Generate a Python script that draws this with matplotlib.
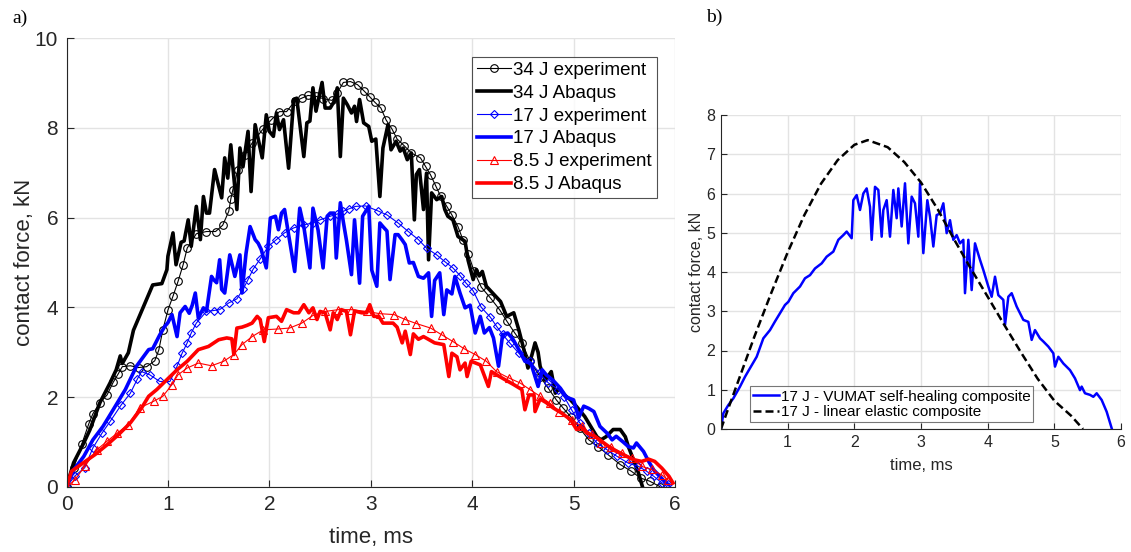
import numpy as np
import matplotlib
matplotlib.use("Agg")
import matplotlib.pyplot as plt

plt.rcParams['font.family'] = ['Liberation Sans', 'DejaVu Sans']

# ---------------- data (time ms, force kN) ----------------
exp34 = np.array([
    [0, 0], [0.07, 0.42], [0.15, 0.95], [0.22, 1.41], [0.26, 1.63], [0.33, 1.88], [0.40, 2.05],
    [0.46, 2.33], [0.51, 2.52], [0.55, 2.68], [0.63, 2.70], [0.71, 2.66], [0.79, 2.68], [0.87, 2.81],
    [0.91, 3.05], [0.95, 3.50], [1.00, 3.94], [1.05, 4.25], [1.10, 4.58], [1.15, 4.95], [1.19, 5.32],
    [1.28, 5.64], [1.38, 5.69], [1.47, 5.69], [1.54, 5.83], [1.60, 6.14], [1.62, 6.41], [1.64, 6.62],
    [1.69, 7.07], [1.76, 7.40], [1.83, 7.66], [1.94, 7.98], [2.02, 8.18], [2.10, 8.36], [2.17, 8.36],
    [2.25, 8.59], [2.32, 8.66], [2.38, 8.72], [2.46, 8.70], [2.53, 8.65], [2.62, 8.61], [2.67, 8.78],
    [2.73, 9.01], [2.80, 9.03], [2.87, 8.96], [2.93, 8.83], [2.99, 8.69], [3.04, 8.57], [3.10, 8.44],
    [3.15, 8.18], [3.21, 7.97], [3.26, 7.75], [3.33, 7.60], [3.40, 7.44], [3.49, 7.33], [3.54, 7.14],
    [3.59, 6.95], [3.64, 6.71], [3.69, 6.47], [3.75, 6.25], [3.80, 6.06], [3.86, 5.80], [3.91, 5.50],
    [3.96, 5.20], [4.02, 4.80], [4.09, 4.45], [4.18, 4.21], [4.27, 3.95], [4.34, 3.70], [4.42, 3.43],
    [4.49, 3.21], [4.57, 2.80], [4.67, 2.46], [4.75, 2.20], [4.83, 1.94], [4.90, 1.75], [4.97, 1.57],
    [5.06, 1.31], [5.15, 1.05], [5.24, 0.90], [5.34, 0.72], [5.46, 0.50], [5.57, 0.35], [5.66, 0.20],
    [5.75, 0.13], [5.85, 0.01]])

abaqus34 = np.array([
    [0, 0], [0.07, 0.54], [0.17, 0.98], [0.23, 1.27], [0.33, 1.88], [0.43, 2.32], [0.49, 2.61],
    [0.53, 2.92], [0.55, 2.75], [0.61, 2.99], [0.66, 3.49], [0.76, 4.02], [0.85, 4.50], [0.94, 4.53],
    [0.99, 4.84], [1.00, 5.14], [1.05, 5.66], [1.08, 4.95], [1.13, 5.45], [1.16, 5.48], [1.20, 5.95],
    [1.23, 5.36], [1.28, 6.25], [1.32, 5.51], [1.35, 6.47], [1.38, 6.10], [1.41, 6.10], [1.46, 7.07],
    [1.53, 6.44], [1.56, 7.33], [1.59, 6.88], [1.62, 7.62], [1.68, 6.18], [1.71, 7.55], [1.74, 7.13],
    [1.79, 7.92], [1.82, 6.58], [1.86, 8.07], [1.93, 7.33], [1.97, 8.29], [2.00, 7.92], [2.04, 7.81],
    [2.07, 8.33], [2.10, 7.96], [2.14, 8.18], [2.19, 7.10], [2.24, 8.63], [2.27, 8.66], [2.34, 7.36],
    [2.37, 8.11], [2.40, 8.15], [2.43, 8.89], [2.46, 8.37], [2.52, 9.01], [2.55, 8.44], [2.60, 8.44],
    [2.64, 8.59], [2.67, 8.89], [2.70, 7.36], [2.73, 8.66], [2.77, 8.51], [2.81, 8.33], [2.84, 8.48],
    [2.86, 8.14], [2.89, 8.63], [2.93, 8.11], [2.98, 8.03], [3.01, 7.70], [3.05, 7.75], [3.09, 6.47],
    [3.12, 7.55], [3.17, 8.07], [3.20, 7.51], [3.25, 7.70], [3.29, 7.48], [3.32, 7.55], [3.36, 7.29],
    [3.40, 7.44], [3.43, 5.95], [3.45, 6.96], [3.48, 7.07], [3.52, 6.18], [3.55, 6.99], [3.57, 5.06],
    [3.60, 6.55], [3.65, 6.40], [3.70, 6.47], [3.73, 6.18], [3.76, 6.03], [3.81, 5.95], [3.86, 5.58],
    [3.93, 5.47], [3.96, 5.05], [4.01, 4.62], [4.04, 4.84], [4.07, 4.70], [4.10, 4.80], [4.14, 4.47],
    [4.21, 4.30], [4.28, 4.13], [4.34, 3.80], [4.41, 3.88], [4.46, 3.50], [4.51, 3.06], [4.55, 2.65],
    [4.59, 2.95], [4.62, 3.21], [4.65, 3.00], [4.67, 2.69], [4.72, 2.38], [4.78, 2.57], [4.82, 2.09],
    [4.86, 2.20], [4.91, 2.05], [4.97, 1.94], [5.03, 1.79], [5.11, 1.57], [5.18, 1.31], [5.23, 1.12],
    [5.27, 1.05], [5.32, 1.12], [5.39, 1.28], [5.46, 1.28], [5.51, 1.12], [5.54, 0.90], [5.59, 0.61],
    [5.64, 0.31], [5.68, 0.0]])

exp17 = np.array([
    [0, 0], [0.08, 0.24], [0.18, 0.43], [0.26, 0.87], [0.35, 1.20], [0.43, 1.46], [0.54, 1.83],
    [0.63, 2.09], [0.70, 2.41], [0.74, 2.57], [0.82, 2.50], [0.92, 2.35], [1.02, 2.35], [1.09, 2.69],
    [1.14, 2.98], [1.19, 3.21], [1.23, 3.43], [1.28, 3.65], [1.38, 3.91], [1.45, 3.93], [1.51, 3.95],
    [1.60, 4.10], [1.68, 4.19], [1.74, 4.40], [1.79, 4.62], [1.84, 4.85], [1.91, 5.08], [1.99, 5.36],
    [2.07, 5.51], [2.15, 5.66], [2.24, 5.77], [2.34, 5.84], [2.43, 5.88], [2.50, 5.95], [2.60, 6.03],
    [2.67, 6.08], [2.73, 6.14], [2.79, 6.20], [2.85, 6.25], [2.95, 6.26], [3.07, 6.15], [3.16, 6.06],
    [3.27, 5.88], [3.37, 5.69], [3.47, 5.51], [3.55, 5.32], [3.65, 5.17], [3.73, 5.02], [3.81, 4.88],
    [3.88, 4.71], [3.94, 4.54], [4.01, 4.37], [4.09, 4.00], [4.18, 3.78], [4.24, 3.58], [4.30, 3.40],
    [4.37, 3.21], [4.46, 2.98], [4.57, 2.80], [4.66, 2.55], [4.75, 2.32], [4.85, 2.17], [4.91, 2.00],
    [4.98, 1.72], [5.06, 1.43], [5.15, 1.20], [5.23, 0.98], [5.33, 0.83], [5.43, 0.68], [5.54, 0.53],
    [5.64, 0.46], [5.72, 0.35], [5.79, 0.24], [5.87, 0.09], [5.93, 0.07]])

abaqus17 = np.array([
    [0, 0], [0.07, 0.38], [0.17, 0.68], [0.26, 1.05], [0.36, 1.35], [0.46, 1.72], [0.58, 2.17],
    [0.69, 2.69], [0.81, 3.06], [0.85, 3.08], [0.92, 3.39], [0.97, 3.58], [1.00, 3.66], [1.04, 3.84],
    [1.09, 3.35], [1.12, 3.88], [1.17, 4.02], [1.21, 3.87], [1.24, 4.05], [1.27, 4.32], [1.30, 3.76],
    [1.35, 3.99], [1.38, 3.91], [1.43, 4.69], [1.45, 4.62], [1.48, 4.55], [1.51, 5.06], [1.53, 4.40],
    [1.56, 4.32], [1.61, 5.17], [1.66, 4.69], [1.71, 5.17], [1.73, 4.32], [1.77, 5.20], [1.81, 5.80],
    [1.86, 5.51], [1.89, 5.43], [1.92, 5.29], [1.97, 4.88], [2.01, 5.99], [2.06, 6.03], [2.09, 5.73],
    [2.12, 6.10], [2.15, 6.18], [2.19, 5.62], [2.25, 4.80], [2.30, 6.21], [2.34, 5.80], [2.40, 4.88],
    [2.43, 6.21], [2.48, 5.73], [2.53, 4.88], [2.57, 6.03], [2.60, 6.10], [2.64, 6.10], [2.66, 5.10],
    [2.70, 6.33], [2.73, 5.90], [2.76, 5.50], [2.81, 4.73], [2.84, 5.95], [2.89, 4.54], [2.92, 6.03],
    [2.98, 6.25], [3.01, 4.83], [3.06, 4.47], [3.09, 5.88], [3.12, 5.80], [3.16, 5.70], [3.19, 4.62],
    [3.24, 5.62], [3.27, 5.62], [3.31, 5.50], [3.34, 5.40], [3.38, 4.99], [3.42, 5.00], [3.47, 4.69],
    [3.52, 4.65], [3.57, 4.77], [3.60, 3.80], [3.63, 4.60], [3.68, 4.77], [3.72, 3.84], [3.75, 4.39],
    [3.80, 4.30], [3.83, 4.69], [3.88, 4.32], [3.93, 3.99], [3.98, 4.05], [4.03, 3.43], [4.08, 3.80],
    [4.12, 3.43], [4.17, 3.55], [4.21, 3.32], [4.26, 2.69], [4.30, 3.39], [4.35, 3.43], [4.40, 3.30],
    [4.46, 3.06], [4.52, 2.80], [4.58, 2.75], [4.65, 2.24], [4.69, 2.61], [4.73, 2.50], [4.80, 2.37],
    [4.87, 2.20], [4.93, 2.00], [5.00, 1.94], [5.05, 1.54], [5.10, 1.80], [5.15, 1.75], [5.20, 1.68],
    [5.26, 1.35], [5.33, 1.20], [5.38, 1.05], [5.42, 1.13], [5.49, 1.00], [5.54, 0.90], [5.59, 0.87],
    [5.62, 0.98], [5.69, 0.79], [5.74, 0.57], [5.79, 0.38], [5.85, 0.24], [5.91, 0.09], [5.94, 0.05]])

exp85 = np.array([
    [0, 0], [0.08, 0.15], [0.18, 0.46], [0.30, 0.83], [0.40, 1.02], [0.50, 1.20], [0.61, 1.39],
    [0.72, 1.76], [0.86, 1.91], [0.95, 2.02], [1.04, 2.28], [1.10, 2.50], [1.19, 2.65], [1.30, 2.76],
    [1.43, 2.70], [1.55, 2.80], [1.65, 2.95], [1.73, 3.17], [1.83, 3.35], [1.94, 3.50], [2.09, 3.52],
    [2.20, 3.54], [2.32, 3.65], [2.43, 3.82], [2.55, 3.91], [2.68, 3.95], [2.81, 3.95], [2.96, 3.91],
    [3.09, 3.86], [3.23, 3.84], [3.34, 3.73], [3.45, 3.64], [3.59, 3.54], [3.70, 3.39], [3.81, 3.24],
    [3.92, 3.08], [4.03, 2.95], [4.14, 2.80], [4.24, 2.57], [4.36, 2.43], [4.47, 2.32], [4.57, 2.17],
    [4.67, 2.02], [4.77, 1.86], [4.86, 1.68], [4.98, 1.50], [5.08, 1.35], [5.18, 1.17], [5.27, 0.98],
    [5.37, 0.90], [5.48, 0.76], [5.58, 0.64], [5.67, 0.46], [5.77, 0.39], [5.87, 0.27], [5.93, 0.16]])

abaqus85 = np.array([
    [0, 0], [0.05, 0.35], [0.16, 0.53], [0.28, 0.72], [0.40, 0.94], [0.51, 1.16], [0.63, 1.43],
    [0.74, 1.76], [0.81, 2.02], [0.89, 2.17], [0.99, 2.39], [1.09, 2.61], [1.19, 2.80], [1.30, 3.06],
    [1.40, 3.13], [1.50, 3.28], [1.58, 3.32], [1.63, 3.30], [1.65, 2.95], [1.68, 3.54], [1.73, 3.56],
    [1.78, 3.60], [1.83, 3.65], [1.88, 3.80], [1.91, 3.73], [1.95, 3.24], [1.99, 3.77], [2.07, 3.80],
    [2.12, 3.69], [2.17, 3.95], [2.24, 3.88], [2.29, 3.88], [2.34, 4.06], [2.39, 3.88], [2.43, 3.99],
    [2.47, 3.73], [2.50, 3.91], [2.55, 3.88], [2.60, 3.50], [2.63, 3.88], [2.67, 3.73], [2.71, 3.95],
    [2.76, 3.91], [2.80, 3.39], [2.84, 3.92], [2.91, 3.88], [2.96, 3.88], [2.99, 4.06], [3.03, 3.80],
    [3.08, 3.80], [3.12, 3.65], [3.17, 3.65], [3.22, 3.65], [3.26, 3.56], [3.31, 3.21], [3.34, 3.47],
    [3.39, 2.95], [3.42, 3.41], [3.47, 3.29], [3.52, 3.35], [3.56, 3.30], [3.63, 3.21], [3.72, 3.17],
    [3.77, 2.46], [3.80, 2.98], [3.85, 2.90], [3.88, 2.61], [3.93, 2.76], [3.95, 2.46], [3.99, 2.80],
    [4.08, 2.72], [4.16, 2.24], [4.19, 2.57], [4.27, 2.46], [4.41, 2.28], [4.49, 2.17], [4.52, 1.72],
    [4.56, 2.05], [4.61, 2.05], [4.62, 1.68], [4.67, 1.96], [4.73, 1.88], [4.80, 1.76], [4.88, 1.65],
    [4.97, 1.50], [5.03, 1.28], [5.07, 1.35], [5.13, 1.20], [5.21, 1.13], [5.30, 0.98], [5.39, 0.83],
    [5.49, 0.72], [5.59, 0.61], [5.67, 0.57], [5.74, 0.62], [5.80, 0.57], [5.87, 0.42], [5.94, 0.24],
    [5.98, 0.09]])

vumat17 = np.array([
    [0, 0], [0.035, 0.40], [0.11, 0.61], [0.185, 0.78], [0.285, 1.08], [0.36, 1.33], [0.435, 1.55],
    [0.535, 1.84], [0.635, 2.31], [0.735, 2.52], [0.81, 2.74], [0.885, 2.95], [0.96, 3.16], [1.01, 3.24],
    [1.085, 3.46], [1.185, 3.63], [1.26, 3.84], [1.335, 3.92], [1.41, 4.09], [1.51, 4.22], [1.585, 4.39],
    [1.685, 4.52], [1.76, 4.82], [1.835, 4.94], [1.885, 5.03], [1.96, 4.86], [1.985, 5.83], [2.035, 5.96],
    [2.085, 5.58], [2.135, 6.00], [2.185, 6.13], [2.235, 5.66], [2.26, 4.82], [2.31, 6.17], [2.36, 6.09],
    [2.41, 4.90], [2.435, 5.58], [2.485, 5.83], [2.535, 4.90], [2.585, 6.09], [2.635, 5.37], [2.66, 6.13],
    [2.71, 5.16], [2.76, 6.26], [2.81, 4.73], [2.86, 5.92], [2.91, 5.75], [2.96, 4.90], [2.985, 6.26],
    [3.035, 4.48], [3.095, 5.83], [3.135, 5.41], [3.185, 4.65], [3.235, 5.45], [3.285, 5.49], [3.335, 5.75],
    [3.385, 4.99], [3.435, 5.32], [3.485, 4.82], [3.535, 4.94], [3.585, 4.73], [3.635, 4.82], [3.66, 3.46],
    [3.71, 4.82], [3.76, 3.54], [3.81, 4.73], [3.885, 4.31], [3.935, 4.05], [4.01, 3.63], [4.06, 3.37],
    [4.11, 3.88], [4.16, 3.41], [4.235, 3.29], [4.26, 2.65], [4.31, 3.37], [4.36, 3.46], [4.435, 3.12],
    [4.535, 2.78], [4.61, 2.73], [4.66, 2.27], [4.71, 2.52], [4.785, 2.31], [4.835, 2.23], [4.91, 2.10],
    [4.985, 1.93], [5.01, 1.59], [5.06, 1.84], [5.135, 1.67], [5.235, 1.50], [5.31, 1.29], [5.385, 0.99],
    [5.41, 1.08], [5.46, 0.91], [5.535, 0.87], [5.585, 0.82], [5.635, 0.91], [5.71, 0.74], [5.785, 0.44],
    [5.86, 0.02]])

elastic17 = np.array([
    [0, 0], [0.1, 0.48], [0.25, 1.18], [0.5, 2.35], [0.75, 3.45], [1.0, 4.50], [1.25, 5.45],
    [1.5, 6.25], [1.75, 6.85], [2.0, 7.24], [2.2, 7.36], [2.5, 7.18], [2.75, 6.80], [3.0, 6.28],
    [3.25, 5.60], [3.5, 4.82], [3.75, 4.08], [4.0, 3.37], [4.25, 2.65], [4.5, 1.95], [4.75, 1.28],
    [5.0, 0.72], [5.25, 0.34], [5.43, 0.0]])

labels_a = ['34 J experiment', '34 J Abaqus', '17 J experiment', '17 J Abaqus',
            '8.5 J experiment', '8.5 J Abaqus']
labels_b = ['17 J - VUMAT self-healing composite', '17 J - linear elastic composite']

# ---------------- figure ----------------
W, H = 1131, 552
fig = plt.figure(figsize=(W / 100, H / 100), dpi=100)
tc = '#262626'
gc = '#e3e3e3'


def px_axes(l, r, t, b):
    return fig.add_axes([l / W, 1 - b / H, (r - l) / W, (b - t) / H])


def style(ax, fs):
    for s in ['top', 'right']:
        ax.spines[s].set_visible(False)
    for s in ['left', 'bottom']:
        ax.spines[s].set_color(tc)
        ax.spines[s].set_linewidth(0.8)
    ax.tick_params(direction='in', length=5, width=0.8, colors=tc, labelsize=fs, pad=6)
    ax.grid(True, color=gc, linewidth=1.0)
    ax.set_axisbelow(True)


# panel a
ax = px_axes(66.5, 675, 38, 487)
style(ax, 15)
ax.plot(exp34[:, 0], exp34[:, 1], color='k', lw=0.8, marker='o', ms=5.5, mfc='none', mew=0.8, label=labels_a[0])
ax.plot(abaqus34[:, 0], abaqus34[:, 1], color='k', lw=2.6, label=labels_a[1])
ax.plot(exp17[:, 0], exp17[:, 1], color='#0000ff', lw=0.8, marker='D', ms=4.5, mfc='none', mew=0.8, label=labels_a[2])
ax.plot(abaqus17[:, 0], abaqus17[:, 1], color='#0000ff', lw=2.6, label=labels_a[3])
ax.plot(exp85[:, 0], exp85[:, 1], color='#ff0000', lw=0.8, marker='^', ms=5.5, mfc='none', mew=0.8, label=labels_a[4])
ax.plot(abaqus85[:, 0], abaqus85[:, 1], color='#ff0000', lw=2.6, label=labels_a[5])
ax.set_xlim(0, 6)
ax.set_ylim(0, 10)
ax.set_xticks(range(0, 7))
ax.set_yticks(range(0, 11, 2))
ax.set_xlabel('time, ms', fontsize=16, color=tc, labelpad=9)
ax.set_ylabel('contact force, kN', fontsize=16, color=tc, labelpad=0)
leg = ax.legend(loc='upper right', bbox_to_anchor=(0.970, 0.958), fontsize=13.5, frameon=True,
                fancybox=False, edgecolor=tc, handlelength=1.8, handletextpad=0.15,
                labelspacing=0.31, borderpad=0.25, borderaxespad=0)
leg.get_frame().set_linewidth(0.8)

# panel b
bx = px_axes(721, 1121, 115, 429)
style(bx, 11.5)
bx.tick_params(length=4, pad=4)
bx.plot(vumat17[:, 0], vumat17[:, 1], color='#0000ff', lw=1.8, label=labels_b[0])
bx.plot(elastic17[:, 0], elastic17[:, 1], color='k', lw=1.8, ls=(0, (3.2, 1.6)), label=labels_b[1])
bx.set_xlim(0, 6)
bx.set_ylim(0, 8)
bx.set_xticks(range(1, 7))
bx.set_yticks(range(0, 9))
bx.set_xlabel('time, ms', fontsize=12, color=tc, labelpad=6)
bx.set_ylabel('contact force, kN', fontsize=11.5, color=tc, labelpad=2)
leg2 = bx.legend(loc='lower left', bbox_to_anchor=(0.0725, 0.022), fontsize=11, frameon=True,
                 fancybox=False, edgecolor='#555555', handlelength=1.7, handletextpad=0.1,
                 labelspacing=0.1, borderpad=0.2, borderaxespad=0)
leg2.get_frame().set_linewidth(0.8)

fig.text(12 / W, 1 - 18 / H, 'a)', fontsize=14, family=['Liberation Serif', 'DejaVu Serif'], va='center', ha='left')
fig.text(706 / W, 1 - 17 / H, 'b)', fontsize=14, family=['Liberation Serif', 'DejaVu Serif'], va='center', ha='left')

fig.savefig('out.png', dpi=100)
